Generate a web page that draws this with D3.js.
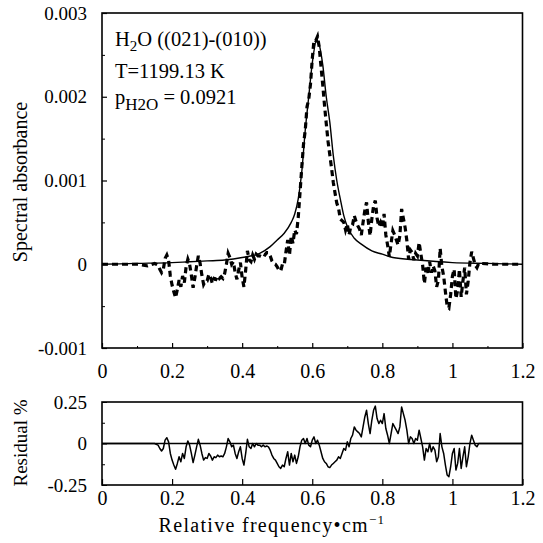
<!DOCTYPE html>
<html><head><meta charset="utf-8">
<script src="https://cdn.jsdelivr.net/npm/d3@7"></script>
<style>
html,body{margin:0;padding:0;background:#fff;}
svg text{font-family:"Liberation Serif","Times New Roman",serif;fill:#000;}
</style></head>
<body><svg id="c" width="543" height="543"></svg>
<script>
// ---------- data ----------
const xTicks = [0, 0.2, 0.4, 0.6, 0.8, 1, 1.2];
const xTickLabels = ["0", "0.2", "0.4", "0.6", "0.8", "1", "1.2"];
const absTicks = [-0.001, 0, 0.001, 0.002, 0.003];
const absTickLabels = ["-0.001", "0", "0.001", "0.002", "0.003"];
const resTicks = [-0.25, 0, 0.25];
const resTickLabels = ["-0.25", "0", "0.25"];

// fitted (solid) curve
const fitFreq = [0,0.1,0.2,0.25,0.3,0.35,0.4,0.45,0.48,0.5,0.52,0.54,0.55,0.56,0.57,0.58,0.59,0.60,0.613,0.62,0.63,0.64,0.65,0.66,0.67,0.68,0.69,0.70,0.72,0.74,0.77,0.80,0.83,0.9,1.0,1.1,1.2];
const fitAbs = [0,0.00001,0.00002,0.00003,0.00004,0.00005,0.00008,0.00013,0.00021,0.00029,0.00037,0.00050,0.00060,0.00078,0.00110,0.00160,0.00200,0.00240,0.00268,0.00262,0.00238,0.00200,0.00170,0.00130,0.00100,0.00078,0.00058,0.00045,0.00031,0.00024,0.00016,0.00012,0.00008,0.00005,0.00002,0.00001,0];

// measured-data frequency grid (noisy region)
const measFreq = [
0.160,0.165,0.170,0.175,0.180,0.185,0.190,0.195,0.200,0.205,
0.210,0.215,0.220,0.225,0.230,0.235,0.240,0.245,0.250,0.255,
0.260,0.265,0.270,0.275,0.280,0.285,0.290,0.295,0.300,0.305,
0.310,0.315,0.320,0.325,0.330,0.335,0.340,0.345,0.350,0.355,
0.360,0.365,0.370,0.375,0.380,0.385,0.390,0.395,0.400,0.405,
0.410,0.415,0.420,0.425,0.430,0.435,0.440,0.445,0.450,0.455,
0.460,0.465,0.470,0.475,0.480,0.485,0.490,0.495,0.500,0.505,
0.510,0.515,0.520,0.525,0.530,0.535,0.540,0.545,0.550,0.555,
0.560,0.565,0.570,0.575,0.580,0.585,0.590,0.595,0.600,0.605,
0.610,0.615,0.620,0.625,0.630,0.635,0.640,0.645,0.650,0.655,
0.660,0.665,0.670,0.675,0.680,0.685,0.690,0.695,0.700,0.705,
0.710,0.715,0.720,0.725,0.730,0.735,0.740,0.745,0.750,0.755,
0.760,0.765,0.770,0.775,0.780,0.785,0.790,0.795,0.800,0.805,
0.810,0.815,0.820,0.825,0.830,0.835,0.840,0.845,0.850,0.855,
0.860,0.865,0.870,0.875,0.880,0.885,0.890,0.895,0.900,0.905,
0.910,0.915,0.920,0.925,0.930,0.935,0.940,0.945,0.950,0.955,
0.960,0.965,0.970,0.975,0.980,0.985,0.990,0.995,1.000,1.005,
1.010,1.015,1.020,1.025,1.030,1.035,1.040,1.045,1.050,1.055,
1.060,1.065,1.070,1.075];

// measured spectral absorbance (dashed), in absorbance units
const measAbs = [
-0.1e-4,-0.6e-4,-1.0e-4,-0.6e-4,0.7e-4,1.1e-4,0.5e-4,-1.4e-4,-2.5e-4,-3.3e-4,
-4.0e-4,-3.0e-4,-1.9e-4,-2.7e-4,-1.4e-4,-2.2e-4,-0.3e-4,0.6e-4,0.0e-4,-1.3e-4,
-2.8e-4,-1.6e-4,-0.2e-4,1.0e-4,0.1e-4,-1.3e-4,-2.4e-4,-2.0e-4,-2.0e-4,-1.2e-4,
-1.6e-4,-2.3e-4,-1.7e-4,-1.8e-4,-1.4e-4,-1.7e-4,-1.5e-4,-1.7e-4,-1.1e-4,0.0e-4,
1.3e-4,0.8e-4,0.0e-4,0.3e-4,-1.0e-4,-1.8e-4,-0.7e-4,0.2e-4,-1.6e-4,-2.7e-4,
-0.7e-4,1.6e-4,0.5e-4,0.3e-4,1.1e-4,0.6e-4,1.2e-4,1.0e-4,1.0e-4,0.9e-4,
1.2e-4,1.1e-4,1.4e-4,1.4e-4,1.0e-4,0.4e-4,0.1e-4,0.0e-4,-0.3e-4,-0.7e-4,
-0.8e-4,0.0e-4,-0.1e-4,1.5e-4,2.9e-4,1.1e-4,3.4e-4,2.5e-4,4.1e-4,3.6e-4,
5.6e-4,8.5e-4,11.5e-4,14.3e-4,16.0e-4,18.8e-4,19.7e-4,21.5e-4,24.5e-4,26.8e-4,
26.7e-4,27.2e-4,25.9e-4,23.6e-4,21.4e-4,19.0e-4,16.8e-4,14.7e-4,13.1e-4,11.5e-4,
9.8e-4,8.5e-4,7.3e-4,6.7e-4,5.4e-4,5.2e-4,5.0e-4,4.1e-4,4.8e-4,3.5e-4,
4.5e-4,4.7e-4,5.8e-4,5.1e-4,4.6e-4,4.2e-4,3.5e-4,5.0e-4,6.4e-4,7.4e-4,
5.1e-4,3.4e-4,5.4e-4,7.0e-4,7.6e-4,5.5e-4,4.5e-4,5.0e-4,4.4e-4,6.0e-4,
3.5e-4,2.3e-4,0.9e-4,2.5e-4,4.0e-4,3.5e-4,2.9e-4,2.3e-4,3.4e-4,6.6e-4,
5.5e-4,4.4e-4,2.8e-4,0.6e-4,1.7e-4,1.4e-4,0.5e-4,1.3e-4,1.0e-4,2.6e-4,
1.2e-4,-0.1e-4,-2.3e-4,-0.4e-4,-1.0e-4,0.3e-4,-1.0e-4,-0.2e-4,-0.8e-4,-2.7e-4,
-1.9e-4,1.9e-4,-0.3e-4,-1.4e-4,-3.3e-4,-5.0e-4,-5.2e-4,-3.6e-4,-1.4e-4,-0.6e-4,
-4.1e-4,-3.1e-4,-0.6e-4,-3.9e-4,-2.0e-4,-0.4e-4,-3.6e-4,-2.0e-4,0.2e-4,1.5e-4,
0.7e-4,-0.1e-4,-0.4e-4,0.1e-4];

// flat measured parts outside the noisy region
const measEdgeFreqLo = [0, 0.05, 0.1, 0.13, 0.15, 0.155];
const measEdgeAbsLo = [0, 0, 0, -0.2e-4, 0.1e-4, 0];
const measEdgeFreqHi = [1.08, 1.12, 1.16, 1.2];
const measEdgeAbsHi = [0.1e-4, 0, 0, 0];

// residual (%)
const residual = [
-0.01,-0.03,-0.045,-0.03,0.02,0.035,0.01,-0.06,-0.10,-0.13,
-0.155,-0.12,-0.08,-0.11,-0.06,-0.09,-0.02,0.015,-0.01,-0.06,
-0.115,-0.07,-0.02,0.025,-0.01,-0.06,-0.10,-0.085,-0.09,-0.06,
-0.075,-0.10,-0.08,-0.085,-0.07,-0.08,-0.075,-0.08,-0.06,-0.02,
0.03,0.01,-0.02,-0.01,-0.06,-0.09,-0.05,-0.02,-0.09,-0.13,
-0.06,0.025,-0.02,-0.03,0.00,-0.02,0.00,-0.01,-0.01,-0.02,
-0.01,-0.02,-0.015,-0.02,-0.04,-0.07,-0.09,-0.10,-0.12,-0.14,
-0.15,-0.13,-0.14,-0.09,-0.05,-0.13,-0.06,-0.11,-0.07,-0.12,
-0.08,-0.02,0.02,0.03,0.00,0.03,-0.01,-0.02,0.02,0.04,
0.00,0.02,-0.01,-0.05,-0.09,-0.11,-0.12,-0.14,-0.145,-0.13,
-0.12,-0.11,-0.10,-0.08,-0.09,-0.06,-0.03,-0.04,0.01,-0.02,
0.03,0.05,0.10,0.08,0.07,0.06,0.04,0.10,0.16,0.20,
0.12,0.06,0.14,0.20,0.225,0.15,0.12,0.14,0.12,0.18,
0.09,0.05,0.00,0.06,0.12,0.10,0.08,0.06,0.10,0.22,
0.18,0.14,0.08,0.00,0.04,0.03,0.00,0.03,0.02,0.08,
0.03,-0.02,-0.10,-0.03,-0.05,0.00,-0.05,-0.02,-0.04,-0.11,
-0.08,0.06,-0.02,-0.06,-0.13,-0.19,-0.20,-0.14,-0.06,-0.03,
-0.16,-0.12,-0.03,-0.15,-0.08,-0.02,-0.14,-0.08,0.00,0.05,
0.02,-0.01,-0.02,0.00];
const residEdgeFreqLo = [0, 0.15, 0.155];
const residEdgeLo = [0, 0, -0.005];
const residEdgeFreqHi = [1.08, 1.2];
const residEdgeHi = [0, 0];

// ---------- drawing ----------
const svg = d3.select("#c");
const L = 102, R = 522.5;
const x = d3.scaleLinear().domain([0, 1.2]).range([L, R]);
const yA = d3.scaleLinear().domain([-0.001, 0.003]).range([348, 13]);
const yR = d3.scaleLinear().domain([-0.25, 0.25]).range([485, 402]);

function zip(fs, vs){ return fs.map((f,i)=>[f, vs[i]]); }
const measData = zip(measEdgeFreqLo, measEdgeAbsLo).concat(zip(measFreq, measAbs), zip(measEdgeFreqHi, measEdgeAbsHi));
const residData = zip(residEdgeFreqLo, residEdgeLo).concat(zip(measFreq, residual), zip(residEdgeFreqHi, residEdgeHi));
const fitData = zip(fitFreq, fitAbs);

const FS = 19;

// ---- top panel axes ----
const gTop = svg.append("g");
const axL = d3.axisLeft(yA).tickValues(absTicks).tickFormat((d,i)=>absTickLabels[i]).tickSizeInner(-5).tickSizeOuter(0).tickPadding(15);
const gL = gTop.append("g").attr("transform",`translate(${L},0)`).call(axL);
gL.select(".domain").remove();
gL.selectAll("text").attr("font-size",FS).attr("font-family","Liberation Serif");
gL.selectAll("line").attr("stroke-width",1.2);
gTop.append("g").attr("transform",`translate(${L},0)`)
  .call(d3.axisLeft(yA).tickValues([-0.0005,0.0005,0.0015,0.0025]).tickFormat("").tickSizeInner(-3).tickSizeOuter(0))
  .call(g=>g.select(".domain").remove());

const axB = d3.axisBottom(x).tickValues(xTicks).tickFormat((d,i)=>xTickLabels[i]).tickSizeInner(-5).tickSizeOuter(0).tickPadding(16);
const gB = gTop.append("g").attr("transform",`translate(0,348)`).call(axB);
gB.select(".domain").remove();
gB.selectAll("text").attr("font-size",FS+1).attr("font-family","Liberation Serif");
gB.selectAll("line").attr("stroke-width",1.2);
gTop.append("g").attr("transform",`translate(0,348)`)
  .call(d3.axisBottom(x).tickValues([0.1,0.3,0.5,0.7,0.9,1.1]).tickFormat("").tickSizeInner(-2).tickSizeOuter(0))
  .call(g=>g.select(".domain").remove());

gTop.append("rect").attr("x",L).attr("y",13).attr("width",R-L).attr("height",348-13)
  .attr("fill","none").attr("stroke","#000").attr("stroke-width",1.6);

// fitted curve
gTop.append("path").datum(fitData)
  .attr("d", d3.line().x(d=>x(d[0])).y(d=>yA(d[1])).curve(d3.curveMonotoneX))
  .attr("fill","none").attr("stroke","#000").attr("stroke-width",1.4);
// measured dashed
gTop.append("path").datum(measData)
  .attr("d", d3.line().x(d=>x(d[0])).y(d=>yA(d[1])))
  .attr("fill","none").attr("stroke","#000").attr("stroke-width",3.2)
  .attr("stroke-dasharray","6,4");

// annotation
const ann = gTop.append("g").attr("font-size",20.5);
const t1 = ann.append("text").attr("x",115).attr("y",46);
t1.append("tspan").text("H");
t1.append("tspan").attr("dy",5).attr("font-size",15).text("2");
t1.append("tspan").attr("dy",-5).text("O ((021)-(010))");
ann.append("text").attr("x",115).attr("y",78).text("T=1199.13 K");
const t3 = ann.append("text").attr("x",115).attr("y",104);
t3.append("tspan").text("p");
t3.append("tspan").attr("dy",6).attr("font-size",17).text("H2O");
t3.append("tspan").attr("dy",-6).text(" = 0.0921");

// y title
svg.append("text").attr("transform","translate(27,182) rotate(-90)").attr("text-anchor","middle")
  .attr("font-size",20).text("Spectral absorbance");

// ---- residual panel ----
const gRes = svg.append("g");
const axRL = d3.axisLeft(yR).tickValues(resTicks).tickFormat((d,i)=>resTickLabels[i]).tickSizeInner(-5).tickSizeOuter(0).tickPadding(15);
const gRL = gRes.append("g").attr("transform",`translate(${L},0)`).call(axRL);
gRL.select(".domain").remove();
gRL.selectAll("text").attr("font-size",FS).attr("font-family","Liberation Serif");
gRes.append("g").attr("transform",`translate(${L},0)`)
  .call(d3.axisLeft(yR).tickValues([-0.125,0.125]).tickFormat("").tickSizeInner(-3).tickSizeOuter(0))
  .call(g=>g.select(".domain").remove());
const axRB = d3.axisBottom(x).tickValues(xTicks).tickFormat((d,i)=>xTickLabels[i]).tickSizeInner(-6).tickSizeOuter(0).tickPadding(6);
const gRB = gRes.append("g").attr("transform",`translate(0,485)`).call(axRB);
gRB.select(".domain").remove();
gRB.selectAll("text").attr("font-size",FS+1).attr("font-family","Liberation Serif");
gRB.selectAll("line").attr("stroke-width",1.2);

gRes.append("rect").attr("x",L).attr("y",402).attr("width",R-L).attr("height",485-402)
  .attr("fill","none").attr("stroke","#000").attr("stroke-width",1.6);
gRes.append("line").attr("x1",L).attr("x2",R).attr("y1",yR(0)).attr("y2",yR(0))
  .attr("stroke","#000").attr("stroke-width",1.6);
gRes.append("path").datum(residData)
  .attr("d", d3.line().x(d=>x(d[0])).y(d=>yR(d[1])))
  .attr("fill","none").attr("stroke","#000").attr("stroke-width",1.5).attr("stroke-linejoin","round");

svg.append("text").attr("transform","translate(27,443) rotate(-90)").attr("text-anchor","middle")
  .attr("font-size",FS).text("Residual %");

const xt = svg.append("text").attr("x",272).attr("y",532).attr("text-anchor","middle").attr("font-size",20).attr("letter-spacing",1.3);
xt.append("tspan").text("Relative frequency\u2022cm");
xt.append("tspan").attr("dy",-8).attr("font-size",13).text("\u22121");
</script></body></html>
